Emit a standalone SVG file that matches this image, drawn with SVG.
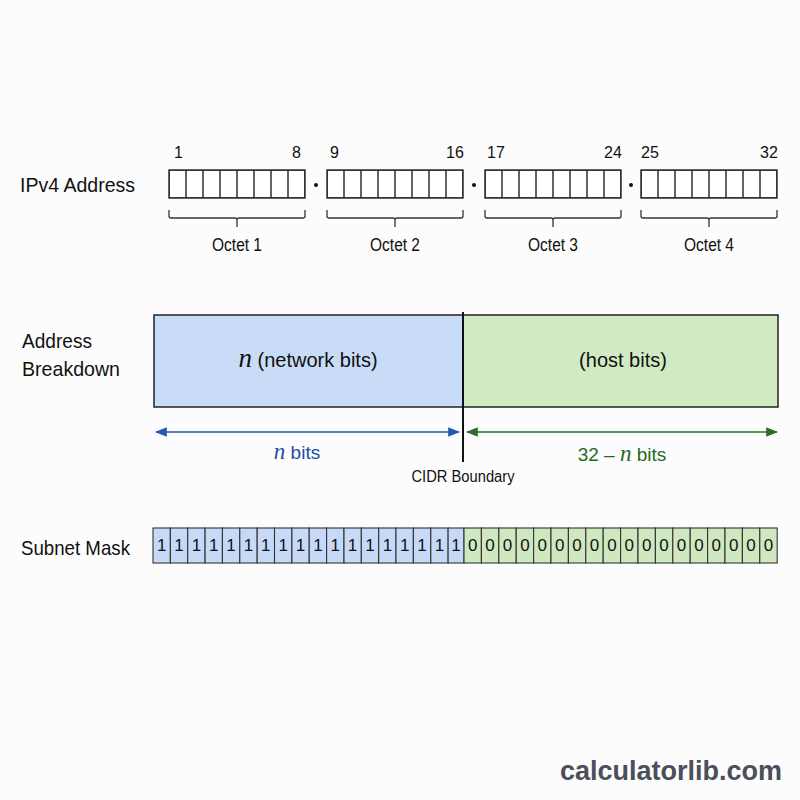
<svg xmlns="http://www.w3.org/2000/svg" width="800" height="800" viewBox="0 0 800 800">
<defs>
<style>
text{font-family:"Liberation Sans",Arial,sans-serif;fill:#111}
.lbl{font-size:21px}
.num{font-size:16px}
.oct{font-size:18px;text-anchor:middle}
.brace{fill:none;stroke:#333;stroke-width:1.3}
.mi{font-family:"Liberation Serif","DejaVu Serif",serif;font-style:italic}
.m1{fill:#c6daf7;stroke:#333;stroke-width:1.1}
.m0{fill:#cfe8c0;stroke:#333;stroke-width:1.1}
.bit{font-size:17px;text-anchor:middle}
</style>
<marker id="ab" viewBox="0 0 10 10" refX="9" refY="5" markerWidth="8" markerHeight="8" orient="auto-start-reverse"><path d="M0,1 L10,5 L0,9 z" fill="#1f5bb0"/></marker>
<marker id="ag" viewBox="0 0 10 10" refX="9" refY="5" markerWidth="8" markerHeight="8" orient="auto-start-reverse"><path d="M0,1 L10,5 L0,9 z" fill="#2a6e2a"/></marker>
<pattern id="oc" width="17" height="28" patternUnits="userSpaceOnUse"><rect x="0" y="0" width="17" height="28" fill="#fff" stroke="#222" stroke-width="1.4"/></pattern>
</defs>
<rect width="800" height="800" fill="#fcfcfc"/>

<text class="lbl" x="20" y="192" textLength="115" lengthAdjust="spacingAndGlyphs">IPv4 Address</text>

<g id="octet1">
<text class="num" x="174" y="158">1</text><text class="num" x="292" y="158">8</text>
<g transform="translate(169,170)"><rect width="136" height="28" fill="url(#oc)" stroke="#222" stroke-width="1.4"/></g>
<path class="brace" d="M169,210 V216 Q169,218 171,218 H235 Q237,218 237,220 V227 M237,220 Q237,218 239,218 H303 Q305,218 305,216 V210"/>
<text class="oct" x="237" y="251" textLength="50" lengthAdjust="spacingAndGlyphs">Octet 1</text>
</g>
<circle cx="316" cy="185" r="2" fill="#111"/>
<g id="octet2">
<text class="num" x="330" y="158">9</text><text class="num" x="446" y="158">16</text>
<g transform="translate(327,170)"><rect width="136" height="28" fill="url(#oc)" stroke="#222" stroke-width="1.4"/></g>
<path class="brace" d="M327,210 V216 Q327,218 329,218 H393 Q395,218 395,220 V227 M395,220 Q395,218 397,218 H461 Q463,218 463,216 V210"/>
<text class="oct" x="395" y="251" textLength="50" lengthAdjust="spacingAndGlyphs">Octet 2</text>
</g>
<circle cx="474" cy="185" r="2" fill="#111"/>
<g id="octet3">
<text class="num" x="487" y="158">17</text><text class="num" x="604" y="158">24</text>
<g transform="translate(485,170)"><rect width="136" height="28" fill="url(#oc)" stroke="#222" stroke-width="1.4"/></g>
<path class="brace" d="M485,210 V216 Q485,218 487,218 H551 Q553,218 553,220 V227 M553,220 Q553,218 555,218 H619 Q621,218 621,216 V210"/>
<text class="oct" x="553" y="251" textLength="50" lengthAdjust="spacingAndGlyphs">Octet 3</text>
</g>
<circle cx="631" cy="185" r="2" fill="#111"/>
<g id="octet4">
<text class="num" x="641" y="158">25</text><text class="num" x="760" y="158">32</text>
<g transform="translate(641,170)"><rect width="136" height="28" fill="url(#oc)" stroke="#222" stroke-width="1.4"/></g>
<path class="brace" d="M641,210 V216 Q641,218 643,218 H707 Q709,218 709,220 V227 M709,220 Q709,218 711,218 H775 Q777,218 777,216 V210"/>
<text class="oct" x="709" y="251" textLength="50" lengthAdjust="spacingAndGlyphs">Octet 4</text>
</g>

<text class="lbl" x="22" y="348" textLength="70" lengthAdjust="spacingAndGlyphs">Address</text>
<text class="lbl" x="22" y="376" textLength="98" lengthAdjust="spacingAndGlyphs">Breakdown</text>

<g id="network">
<rect x="154" y="315" width="309" height="92" fill="#c9dcf7" stroke="#222" stroke-width="1.5"/>
<text x="308" y="367" text-anchor="middle" style="font-size:20px"><tspan class="mi" style="font-size:27px">n</tspan> (network bits)</text>
</g>
<g id="host">
<rect x="463" y="315" width="315" height="92" fill="#d2eac3" stroke="#222" stroke-width="1.5"/>
<text x="623" y="367" text-anchor="middle" style="font-size:20px">(host bits)</text>
</g>

<g id="connectors">
<line x1="463" y1="312" x2="463" y2="462" stroke="#111" stroke-width="2"/>
<line x1="156" y1="432" x2="459" y2="432" stroke="#1f5bb0" stroke-width="1.5" marker-start="url(#ab)" marker-end="url(#ab)"/>
<line x1="467" y1="432" x2="777" y2="432" stroke="#2a6e2a" stroke-width="1.5" marker-start="url(#ag)" marker-end="url(#ag)"/>
</g>
<text x="297" y="459" text-anchor="middle" style="font-size:19px;fill:#1f4fa0"><tspan class="mi" style="font-size:23px;fill:#1f4fa0">n</tspan> bits</text>
<text x="622" y="461" text-anchor="middle" style="font-size:19px;fill:#1e6b1e">32 – <tspan class="mi" style="font-size:23px;fill:#1e6b1e">n</tspan> bits</text>
<text x="463" y="482" text-anchor="middle" style="font-size:16px" textLength="103" lengthAdjust="spacingAndGlyphs">CIDR Boundary</text>

<text class="lbl" x="21" y="555" textLength="109" lengthAdjust="spacingAndGlyphs">Subnet Mask</text>
<g id="mask">
<g id="ones">
<rect class="m1" x="153.0" y="528" width="17.36" height="35"/><text class="bit" x="161.7" y="551">1</text>
<rect class="m1" x="170.4" y="528" width="17.36" height="35"/><text class="bit" x="179.0" y="551">1</text>
<rect class="m1" x="187.7" y="528" width="17.36" height="35"/><text class="bit" x="196.4" y="551">1</text>
<rect class="m1" x="205.1" y="528" width="17.36" height="35"/><text class="bit" x="213.8" y="551">1</text>
<rect class="m1" x="222.4" y="528" width="17.36" height="35"/><text class="bit" x="231.1" y="551">1</text>
<rect class="m1" x="239.8" y="528" width="17.36" height="35"/><text class="bit" x="248.5" y="551">1</text>
<rect class="m1" x="257.2" y="528" width="17.36" height="35"/><text class="bit" x="265.8" y="551">1</text>
<rect class="m1" x="274.5" y="528" width="17.36" height="35"/><text class="bit" x="283.2" y="551">1</text>
<rect class="m1" x="291.9" y="528" width="17.36" height="35"/><text class="bit" x="300.6" y="551">1</text>
<rect class="m1" x="309.2" y="528" width="17.36" height="35"/><text class="bit" x="317.9" y="551">1</text>
<rect class="m1" x="326.6" y="528" width="17.36" height="35"/><text class="bit" x="335.3" y="551">1</text>
<rect class="m1" x="344.0" y="528" width="17.36" height="35"/><text class="bit" x="352.6" y="551">1</text>
<rect class="m1" x="361.3" y="528" width="17.36" height="35"/><text class="bit" x="370.0" y="551">1</text>
<rect class="m1" x="378.7" y="528" width="17.36" height="35"/><text class="bit" x="387.4" y="551">1</text>
<rect class="m1" x="396.0" y="528" width="17.36" height="35"/><text class="bit" x="404.7" y="551">1</text>
<rect class="m1" x="413.4" y="528" width="17.36" height="35"/><text class="bit" x="422.1" y="551">1</text>
<rect class="m1" x="430.8" y="528" width="17.36" height="35"/><text class="bit" x="439.4" y="551">1</text>
<rect class="m1" x="448.1" y="528" width="15.9" height="35"/><text class="bit" x="456.0" y="551">1</text>
</g>
<g id="zeros">
<rect class="m0" x="464.0" y="528" width="17.4" height="35"/><text class="bit" x="472.7" y="551">0</text>
<rect class="m0" x="481.4" y="528" width="17.4" height="35"/><text class="bit" x="490.1" y="551">0</text>
<rect class="m0" x="498.8" y="528" width="17.4" height="35"/><text class="bit" x="507.5" y="551">0</text>
<rect class="m0" x="516.2" y="528" width="17.4" height="35"/><text class="bit" x="524.9" y="551">0</text>
<rect class="m0" x="533.6" y="528" width="17.4" height="35"/><text class="bit" x="542.3" y="551">0</text>
<rect class="m0" x="551.0" y="528" width="17.4" height="35"/><text class="bit" x="559.7" y="551">0</text>
<rect class="m0" x="568.4" y="528" width="17.4" height="35"/><text class="bit" x="577.1" y="551">0</text>
<rect class="m0" x="585.8" y="528" width="17.4" height="35"/><text class="bit" x="594.5" y="551">0</text>
<rect class="m0" x="603.2" y="528" width="17.4" height="35"/><text class="bit" x="611.9" y="551">0</text>
<rect class="m0" x="620.6" y="528" width="17.4" height="35"/><text class="bit" x="629.3" y="551">0</text>
<rect class="m0" x="638.0" y="528" width="17.4" height="35"/><text class="bit" x="646.7" y="551">0</text>
<rect class="m0" x="655.4" y="528" width="17.4" height="35"/><text class="bit" x="664.1" y="551">0</text>
<rect class="m0" x="672.8" y="528" width="17.4" height="35"/><text class="bit" x="681.5" y="551">0</text>
<rect class="m0" x="690.2" y="528" width="17.4" height="35"/><text class="bit" x="698.9" y="551">0</text>
<rect class="m0" x="707.6" y="528" width="17.4" height="35"/><text class="bit" x="716.3" y="551">0</text>
<rect class="m0" x="725.0" y="528" width="17.4" height="35"/><text class="bit" x="733.7" y="551">0</text>
<rect class="m0" x="742.4" y="528" width="17.4" height="35"/><text class="bit" x="751.1" y="551">0</text>
<rect class="m0" x="759.8" y="528" width="17.4" height="35"/><text class="bit" x="768.5" y="551">0</text>
</g>
</g>

<text x="782" y="780" text-anchor="end" style="font-size:27px;font-weight:bold;fill:#4a4f5a" textLength="222" lengthAdjust="spacingAndGlyphs">calculatorlib.com</text>
</svg>
